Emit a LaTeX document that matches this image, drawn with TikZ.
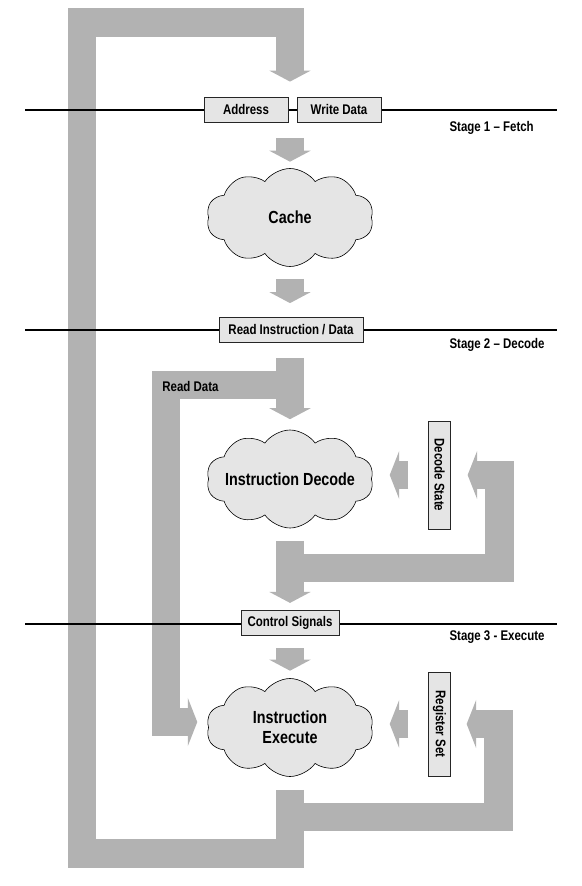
\documentclass[tikz,border=0pt]{standalone}
\usepackage{fontspec}
\setmainfont[FakeStretch=0.82]{Liberation Sans}
\usetikzlibrary{arrows.meta,shapes.symbols,backgrounds,calc}
\definecolor{barGray}{gray}{0.7}
\definecolor{boxGray}{gray}{0.9}

\begin{document}
\begin{tikzpicture}[x=1pt,y=-1pt,
		font=\bfseries\fontsize{14}{16}\selectfont,
		stagebox/.style={draw=black!85,line width=0.8pt,fill=boxGray,minimum height=25pt,inner sep=0pt},
		blob/.style={cloud,cloud puffs=10,cloud puff arc=110,draw=black,line width=0.6pt,fill=boxGray,
			minimum width=167pt,minimum height=98pt,inner sep=0pt},
		blobtext/.style={align=center,font=\bfseries\fontsize{17.5}{20}\selectfont},
		fat/.style={draw=barGray,line width=28.5pt,line join=miter},
		downhead/.style={-{Triangle[width=41pt,length=11pt]}},
		sidehead/.style={-{Triangle[width=48pt,length=9.5pt]}},
		stageline/.style={line width=2.8pt}]
		\useasboundingbox (0,0) rectangle (581,886);
		
		% Stage 1
		\node[stagebox,minimum width=84pt] (addr) at (246,109.5) {Address};
		\node[stagebox,minimum width=84pt] (wdata) at (339,109.5) {Write Data};
		\node[blob] (cache) at (290,217.5) {};
		\node[blobtext] (cachetext) at (cache.center) {Cache};
		\node[anchor=west] (s1) at (446,127.7) {Stage 1 – Fetch};
		
		% Stage 2
		\node[stagebox,minimum width=144pt] (rid) at (291,329.5) {Read Instruction / Data};
		\node[blob] (idec) at (290,479) {};
		\node[blobtext] (idectext) at (idec.center) {Instruction Decode};
		\node[stagebox,minimum width=108pt,minimum height=21.5pt,rotate=-90] (dstate) at (439.5,475) {Decode State};
		\node[anchor=west] (s2) at (446,345) {Stage 2 – Decode};
		\node (rdlabel) at (190.5,386) {Read Data};
		
		% Stage 3
		\node[stagebox,minimum width=98pt] (ctrl) at (290,622.8) {Control Signals};
		\node[blob] (iexec) at (290,727.5) {};
		\node[blobtext] (iexectext) at (iexec.center) {Instruction\\Execute};
		\node[stagebox,minimum width=104pt,minimum height=21.5pt,rotate=-90] (regset) at (439.5,724) {Register Set};
		\node[anchor=west] (s3) at (446,637) {Stage 3 - Execute};
		
		\coordinate (botleft) at (82,853.5);
		\coordinate (topleft) at (82,22.5);
		\coordinate (rdtop) at (166,385);
		\coordinate (rdbot) at (166,722);
		\coordinate (dfeed) at (499.5,568);
		\coordinate (efeed) at (498.5,817);
		
		\begin{scope}[on background layer]
			% wide data paths
			\draw[fat,downhead,shorten <=13pt,shorten >=15pt] (iexec.south) |- (botleft) -- (topleft) -| (iexec.south |- addr.north);
			\draw[fat,downhead,shorten <=15.5pt,shorten >=6.5pt] (cache.north |- addr.south) -- (cache.north);
			\draw[fat,downhead,shorten <=12pt,shorten >=13.5pt] (cache.south) -- (cache.south |- rid.north);
			\draw[fat,downhead,shorten <=15.5pt,shorten >=10.5pt] (idec.north |- rid.south) -- (idec.north);
			\draw[fat,sidehead,shorten >=11pt] (idec.north |- rdtop) -- (rdtop) -- (rdbot) -- (rdbot -| iexec.west);
			\draw[fat,downhead,shorten <=12.5pt,shorten >=7pt] (idec.south) -- (idec.south |- ctrl.north);
			\draw[fat,sidehead,shorten >=17pt] (dfeed -| idec.south) -- (dfeed) |- (dstate.north);
			\draw[fat,sidehead,shorten <=20pt,shorten >=18pt] (dstate.south) -- (dstate.south -| idec.east);
			\draw[fat,downhead,shorten <=12.5pt,shorten >=7.5pt] (iexec.north |- ctrl.south) -- (iexec.north);
			\draw[fat,sidehead,shorten >=16pt] (efeed -| iexec.south) -- (efeed) |- (regset.north);
			\draw[fat,sidehead,shorten <=20pt,shorten >=18pt] (regset.south) -- (regset.south -| iexec.east);
			
			% stage borders
			\draw[stageline] (25,110) -- (557,110);
			\draw[stageline] (25,330) -- (557,330);
			\draw[stageline] (25,624) -- (557,624);
		\end{scope}
		
\end{tikzpicture}
\end{document}
